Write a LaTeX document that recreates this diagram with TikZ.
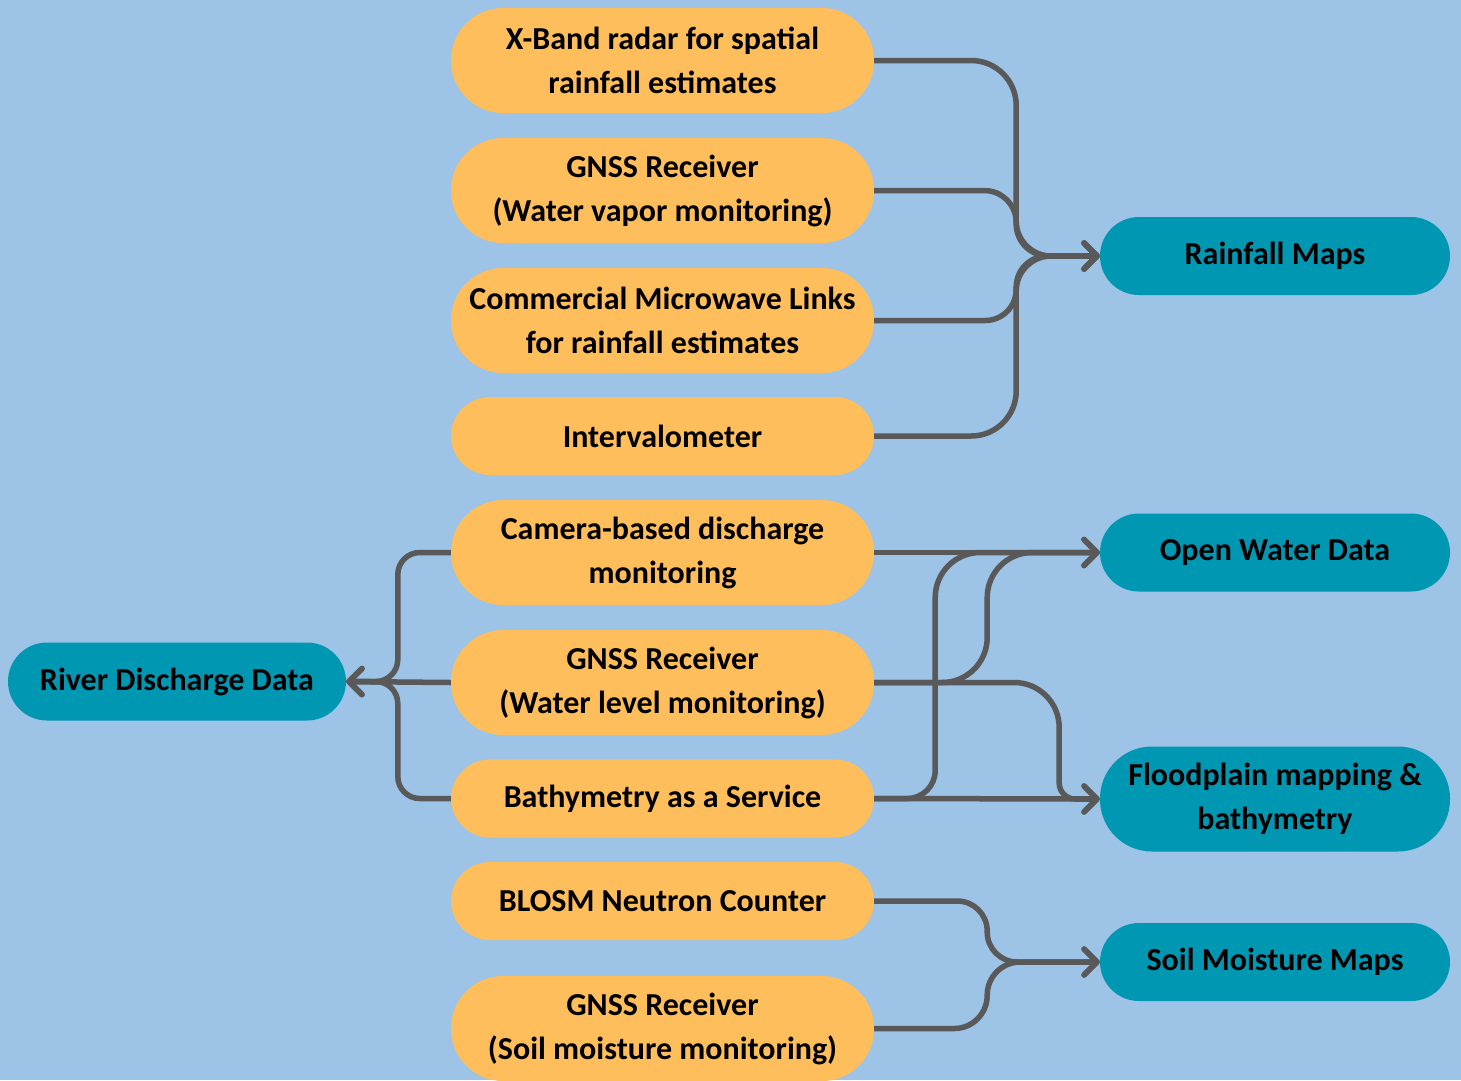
\documentclass[tikz,border=0pt]{standalone}
\usepackage{fontspec}
\setmainfont{Carlito}
\usepackage{xcolor}
\usetikzlibrary{arrows.meta}
\usetikzlibrary{positioning}

\definecolor{bgblue}{HTML}{9DC3E6}
\definecolor{boxorange}{HTML}{FFBE5C}
\definecolor{boxteal}{HTML}{0097B2}
\definecolor{linegray}{HTML}{595959}

\begin{document}
\begin{tikzpicture}[x=1pt,y=-1pt]
	%\draw[help lines] (0,0) grid (1461,1080);
	
	\tikzstyle{snode} = [rectangle,fill=boxorange,minimum width=423pt,align=center,inner sep=0pt,font=\fontsize{32}{44}\selectfont\bfseries]
	\tikzstyle{tall} = [minimum height=105pt,rounded corners=52pt]
	\tikzstyle{short} = [minimum height=78pt,rounded corners=39pt]
	\tikzstyle{tnode} = [rectangle,fill=boxteal,minimum width=350pt,align=center,inner sep=0pt,font=\fontsize{32}{44}\selectfont\bfseries]
	\tikzstyle{link} = [draw=linegray,line width=5.5pt]
	\tikzstyle{ledge} = [link,-{Straight Barb[length=13pt,width=26pt,round]}]
	
\fill[bgblue] (0,0) rectangle (1461,1080);
\useasboundingbox (0,0) rectangle (1461,1080);

% sensors
\node[snode,tall] (xband) at (662.5,60.5) {X-Band radar for spatial\\rainfall estimates};
\node[snode,tall] (gnssvap) at (662.5,190.5) {GNSS Receiver\\(Water vapor monitoring)};
\node[snode,tall] (cml) at (662.5,320.5) {Commercial Microwave Links\\for rainfall estimates};
\node[snode,short] (interval) at (662.5,436) {Intervalometer};
\node[snode,tall] (camera) at (662.5,552.5) {Camera-based discharge\\monitoring};
\node[snode,tall] (gnsslvl) at (662.5,682.5) {GNSS Receiver\\(Water level monitoring)};
\node[snode,short] (bathy) at (662.5,798.5) {Bathymetry as a Service};
\node[snode,short] (blosm) at (662.5,901) {BLOSM Neutron Counter};
\node[snode,tall] (gnsssoil) at (662.5,1028.5) {GNSS Receiver\\(Soil moisture monitoring)};

% products
\node[tnode,short] (rain) at (1275,256) {Rainfall Maps};
\node[tnode,short] (openw) at (1275,552.5) {Open Water Data};
\node[tnode,tall] (flood) at (1275,799) {Floodplain mapping \&\\bathymetry};
\node[tnode,short] (soil) at (1275,962) {Soil Moisture Maps};
\node[tnode,short,minimum width=338pt] (river) at (177,681.5) {River Discharge Data};

% rainfall
\draw[ledge] (xband.east) [rounded corners=45pt] -- ++(142,0) [rounded corners=35pt] |- (rain.west);
\draw[ledge,rounded corners=32pt] (gnssvap.east) -- ++(142,0) |- (rain.west);
\draw[ledge,rounded corners=31pt] (cml.east) -- ++(142,0) |- (rain.west);
\draw[ledge] (interval.east) [rounded corners=45pt] -- ++(142,0) [rounded corners=35pt] |- (rain.west);

% open water
\draw[ledge] (camera.east) -- (openw.west);
\draw[ledge,rounded corners=45pt] (gnsslvl.east) -- ++(113,0) |- (openw.west);
\draw[ledge] (bathy.east) [rounded corners=28pt] -- ++(61,0) [rounded corners=45pt] |- (openw.west);

% floodplain
\draw[ledge] (bathy.east) -- (flood.west);
\draw[ledge] (gnsslvl.east) [rounded corners=45pt] -- ++(185,0) [rounded corners=16pt] -- ++(0,116.5) -- (flood.west);

% river discharge
\draw[ledge,rounded corners=22pt] (camera.west) -- ++(-53,0) |- (river.east);
\draw[ledge] (gnsslvl.west) -- (river.east);
\draw[ledge,rounded corners=22pt] (bathy.west) -- ++(-53,0) |- (river.east);

% soil moisture
\draw[ledge,rounded corners=30pt] (blosm.east) -- ++(113,0) |- (soil.west);
\draw[ledge,rounded corners=33pt] (gnsssoil.east) -- ++(113,0) |- (soil.west);
\end{tikzpicture}
\end{document}
